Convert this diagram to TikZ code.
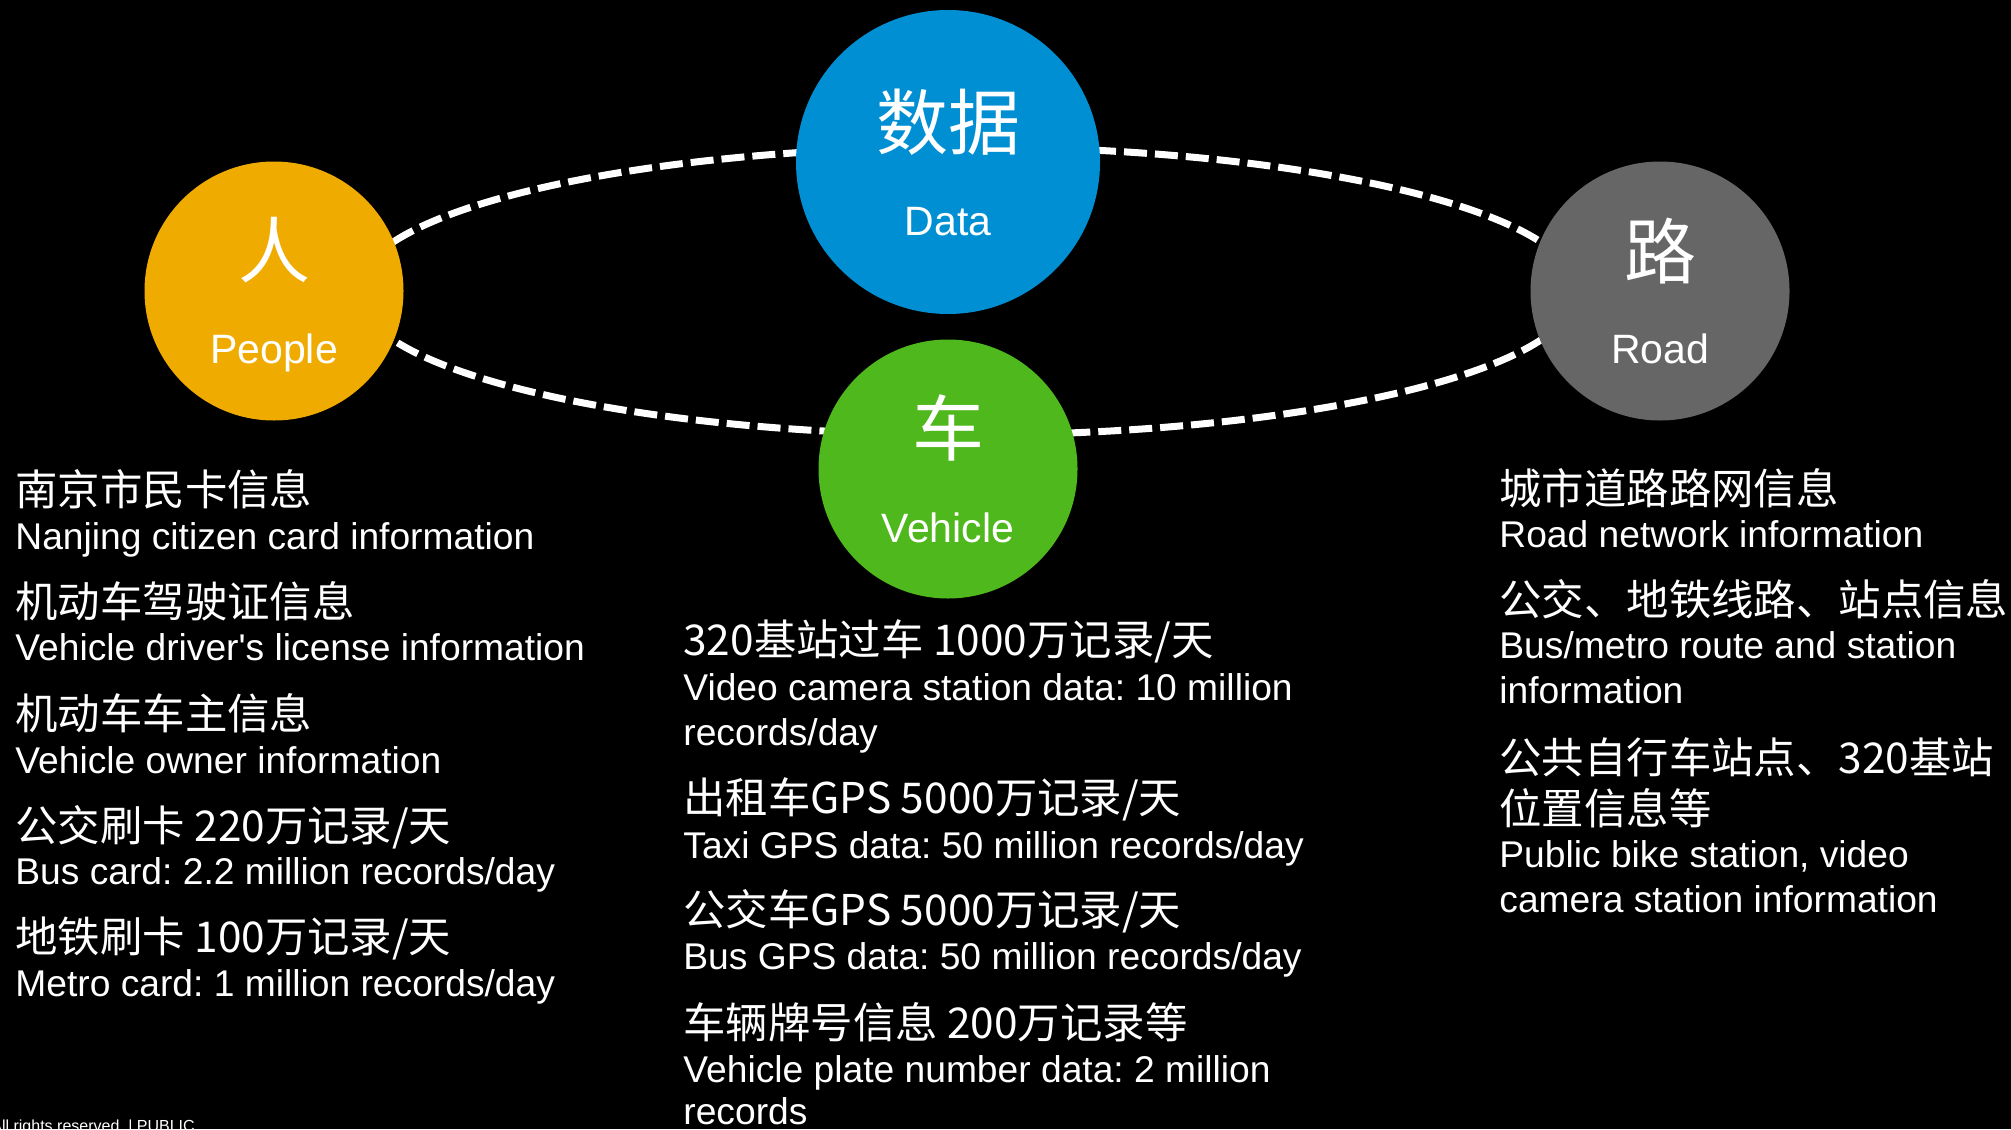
\documentclass[tikz,border=0pt]{standalone}
\usepackage{fontspec}
\setmainfont{Liberation Sans}
\newfontfamily\cjk{Noto Sans CJK SC}
\usetikzlibrary{calc}
\definecolor{peoplegold}{HTML}{F0AB00}
\definecolor{datablue}{HTML}{008FD3}
\definecolor{roadgrey}{HTML}{666666}
\definecolor{vehiclegreen}{HTML}{4FB81C}
\tikzset{
  hub/.style={circle, inner sep=0pt, minimum size=129.5pt},
  link/.style={white, line width=3.5pt, dash pattern=on 11.5pt off 4pt},
  hubcn/.style={text=white, inner sep=0pt, font=\cjk\fontsize{36}{40}\selectfont},
  huben/.style={text=white, inner sep=0pt, anchor=base, font=\fontsize{20.5}{24}\selectfont},
  txt/.style={text=white, inner sep=0pt, anchor=base west},
  infocn/.style={txt, font=\cjk\fontsize{21.2}{25}\selectfont},
  infoen/.style={txt, font=\fontsize{18.6}{22}\selectfont}
}

\begin{document}
\frenchspacing
\begin{tikzpicture}[x=0.5pt,y=-0.5pt]
  \fill[black] (0,0) rectangle (2011,1129);
  \useasboundingbox (0,0) rectangle (2011,1129);

  \coordinate (P) at (274,291);
  \coordinate (D) at (948,162);
  \coordinate (R) at (1660,291);
  \coordinate (V) at (948,469);

  % dashed ring behind the four circles
  \draw[link] ($(P)!0.5!(R)$) ellipse [x radius=610, y radius=144];

  \node[hub, fill=peoplegold] (people) at (P) {};
  \node[hub, fill=datablue, minimum size=152pt] (data) at (D) {};
  \node[hub, fill=roadgrey] (road) at (R) {};
  \node[hub, fill=vehiclegreen] (vehicle) at (V) {};

  \node[hubcn] (peoplecn) at ([yshift=20.5pt]people.center) {人};
  \node[huben] (peopleen) at ([yshift=-36pt]people.center) {People};
  \node[hubcn] (datacn) at ([yshift=20pt]data.center) {数据};
  \node[huben] (dataen) at ([yshift=-36.5pt]data.center) {Data};
  \node[hubcn] (roadcn) at ([yshift=20pt]road.center) {路};
  \node[huben] (roaden) at ([yshift=-36pt]road.center) {Road};
  \node[hubcn] (vehiclecn) at ([yshift=20.5pt]vehicle.center) {车};
  \node[huben] (vehicleen) at ([yshift=-36.5pt]vehicle.center) {Vehicle};

  % people
  \node[infocn] (l1) at (15,505) {南京市民卡信息};
  \node[infoen] (l1e) at (15,549) {Nanjing citizen card information};
  \node[infocn] (l2) at (15,617) {机动车驾驶证信息};
  \node[infoen] (l2e) at (15,660) {Vehicle driver\textquotesingle s license information};
  \node[infocn] (l3) at (15,729) {机动车车主信息};
  \node[infoen] (l3e) at (15,773) {Vehicle owner information};
  \node[infocn] (l4) at (15,841) {公交刷卡 220万记录/天};
  \node[infoen] (l4e) at (15,884) {Bus card: 2.2 million records/day};
  \node[infocn] (l5) at (15,952) {地铁刷卡 100万记录/天};
  \node[infoen] (l5e) at (15,996) {Metro card: 1 million records/day};

  % vehicle
  \node[infocn] (m1) at (683,655) {320基站过车 1000万记录/天};
  \node[infoen] (m1e) at (683,700) {Video camera station data: 10 million};
  \node[infoen] (m1f) at (683,745) {records/day};
  \node[infocn] (m2) at (683,813) {出租车GPS 5000万记录/天};
  \node[infoen] (m2e) at (683,858) {Taxi GPS data: 50 million records/day};
  \node[infocn] (m3) at (683,925) {公交车GPS 5000万记录/天};
  \node[infoen] (m3e) at (683,969) {Bus GPS data: 50 million records/day};
  \node[infocn] (m4) at (683,1038) {车辆牌号信息 200万记录等};
  \node[infoen] (m4e) at (683,1082) {Vehicle plate number data: 2 million};
  \node[infoen] (m4f) at (683,1124) {records};

  % road
  \node[infocn] (r1) at (1499,504) {城市道路路网信息};
  \node[infoen] (r1e) at (1499,547) {Road network information};
  \node[infocn] (r2) at (1499,615) {公交、地铁线路、站点信息};
  \node[infoen] (r2e) at (1499,658) {Bus/metro route and station};
  \node[infoen] (r2f) at (1499,703) {information};
  \node[infocn] (r3) at (1499,773) {公共自行车站点、320基站};
  \node[infocn] (r3b) at (1499,824) {位置信息等};
  \node[infoen] (r3e) at (1499,867) {Public bike station, video};
  \node[infoen] (r3f) at (1499,912) {camera station information};

  \node[txt, font=\fontsize{8}{9}\selectfont] (foot) at (-9,1131) {All rights reserved. | PUBLIC};
\end{tikzpicture}
\end{document}
